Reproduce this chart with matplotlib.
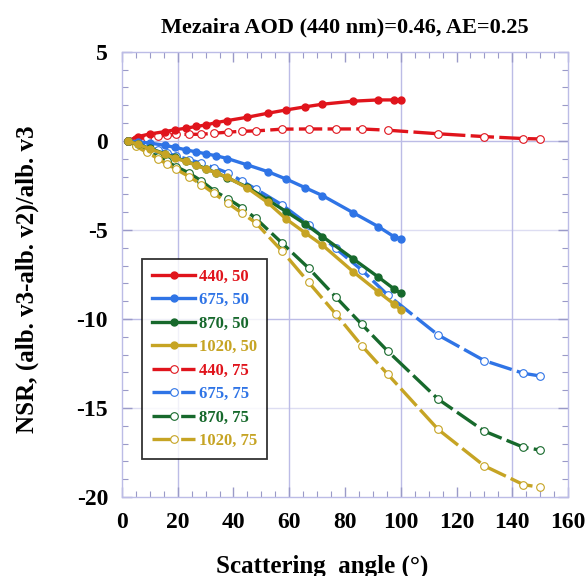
import matplotlib
matplotlib.use("Agg")
import matplotlib.pyplot as plt
from matplotlib.ticker import MultipleLocator

# ---- data ----
x50 = [2, 5.7, 10, 15.3, 19, 22.8, 26.7, 30.3, 33.9, 37.8, 45, 52.2, 59, 65.6, 71.9, 82.9, 91.9, 97.5, 100]
x75 = [2, 5, 9, 13, 16, 19.5, 24, 28.5, 33, 38, 43, 48, 57.5, 67, 76.6, 86, 95.3, 113.4, 130, 144, 150]

y440_50 = [0, 0.24, 0.39, 0.52, 0.62, 0.71, 0.81, 0.90, 1.03, 1.14, 1.33, 1.55, 1.74, 1.91, 2.06, 2.23, 2.30, 2.30, 2.30]
y675_50 = [0, -0.05, -0.12, -0.25, -0.36, -0.50, -0.62, -0.73, -0.84, -0.99, -1.35, -1.72, -2.15, -2.62, -3.07, -4.03, -4.81, -5.37, -5.51]
y870_50 = [0, -0.20, -0.42, -0.72, -0.93, -1.13, -1.35, -1.57, -1.80, -2.07, -2.60, -3.30, -3.98, -4.65, -5.37, -6.62, -7.64, -8.30, -8.56]
y1020_50 = [0, -0.20, -0.45, -0.75, -0.97, -1.15, -1.38, -1.60, -1.80, -2.05, -2.65, -3.45, -4.40, -5.15, -5.85, -7.34, -8.47, -9.15, -9.49]

y440_75 = [0, 0.10, 0.19, 0.28, 0.32, 0.36, 0.37, 0.37, 0.43, 0.49, 0.54, 0.56, 0.66, 0.67, 0.67, 0.67, 0.60, 0.40, 0.24, 0.13, 0.11]
y675_75 = [0, -0.10, -0.30, -0.50, -0.68, -0.85, -1.05, -1.25, -1.50, -1.80, -2.25, -2.70, -3.60, -4.72, -6.03, -7.25, -8.65, -10.90, -12.34, -13.05, -13.20]
y870_75 = [0, -0.25, -0.55, -0.90, -1.15, -1.45, -1.80, -2.25, -2.80, -3.25, -3.75, -4.35, -5.75, -7.15, -8.75, -10.30, -11.80, -14.50, -16.30, -17.20, -17.36]
y1020_75 = [0, -0.30, -0.65, -1.00, -1.30, -1.60, -2.00, -2.45, -2.95, -3.50, -4.05, -4.60, -6.20, -7.95, -9.70, -11.50, -13.10, -16.20, -18.25, -19.30, -19.45]

labels = ["440, 50", "675, 50", "870, 50", "1020, 50", "440, 75", "675, 75", "870, 75", "1020, 75"]
colors = ["#e0141c", "#2f74e6", "#17692c", "#c6a424"]

xticks = [0, 20, 40, 60, 80, 100, 120, 140, 160]
yticks = [5, 0, -5, -10, -15, -20]
title = "Mezaira AOD (440 nm)=0.46, AE=0.25"
xlabel = "Scattering  angle (\u00b0)"
ylabel = "NSR, (alb. v3-alb. v2)/alb. v3"

# ---- plot ----
plt.rcParams['font.family'] = ['Liberation Serif', 'DejaVu Serif']
plt.rcParams['font.weight'] = 'bold'
plt.rcParams['axes.unicode_minus'] = False

fig = plt.figure(figsize=(5.85, 5.76), dpi=100)
ax = fig.add_axes([0.2085, 0.137, 0.7625, 0.773])

gridc = "#bcbce6"
for gx in [20, 60, 100, 140]:
    ax.axvline(gx, color=gridc, lw=1.0, zorder=0)
for gy, a in [(0, 1.0), (-5, 0.5), (-10, 1.0), (-15, 0.5)]:
    ax.axhline(gy, color=gridc, lw=1.0, alpha=a, zorder=0)

y50 = [y440_50, y675_50, y870_50, y1020_50]
y75 = [y440_75, y675_75, y870_75, y1020_75]
handles = []
for c, y in zip(colors, y50):
    h, = ax.plot(x50, y, '-', color=c, lw=2.4, marker='o', ms=5,
                 mfc=c, mec=c, zorder=3)
    handles.append(h)
for c, y in zip(colors, y75):
    h, = ax.plot(x75, y, '-', color=c, lw=2.4, marker='o', ms=5.5,
                 mfc='white', mec=c, mew=0.8, dashes=(7, 1.6), zorder=2)
    handles.append(h)

ax.set_xlim(0, 160)
ax.set_ylim(-20, 5)
ax.set_xticks(xticks)
ax.set_yticks(yticks)
ax.xaxis.set_minor_locator(MultipleLocator(5))
ax.yaxis.set_minor_locator(MultipleLocator(1))
ax.tick_params(which='both', direction='in', top=True, right=True, colors='#9a9ac8',
               labelcolor='black', labelsize=17)
ax.tick_params(which='major', length=7, width=1)
ax.tick_params(which='minor', length=4, width=0.8)
ax.tick_params(axis='x', pad=11)
ax.tick_params(axis='y', pad=10)
for t in ax.get_xticklabels() + ax.get_yticklabels():
    t.set_fontweight('bold')
for s in ax.spines.values():
    s.set_color(gridc)
    s.set_linewidth(1.0)

ax.set_title(title, fontsize=16, fontweight='bold', pad=14)
ax.set_xlabel(xlabel, fontsize=18, fontweight='bold')
ax.xaxis.set_label_coords(0.448, -0.128)
ax.set_ylabel(ylabel, fontsize=18, fontweight='bold')
ax.yaxis.set_label_coords(-0.186, 0.49)

leg = ax.legend(handles, labels, loc='lower left', bbox_to_anchor=(0.045, 0.085),
                borderaxespad=0, frameon=True, fancybox=False,
                handlelength=2.6, handletextpad=0.2, labelspacing=0.45,
                borderpad=0.6, prop={'weight': 'bold', 'size': 12})
leg.get_frame().set_edgecolor('black')
leg.get_frame().set_linewidth(1.3)
for t, h in zip(leg.get_texts(), handles):
    t.set_color(h.get_color())

fig.savefig("out.png", dpi=100)
